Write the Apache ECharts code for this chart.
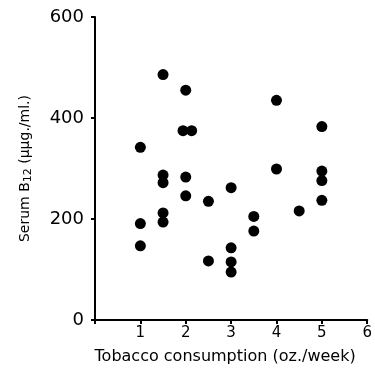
<!DOCTYPE html>
<html><head><meta charset="utf-8">
<script src="https://cdn.jsdelivr.net/npm/echarts@6/dist/echarts.min.js"></script>
<style>html,body{margin:0;padding:0;background:#fff}#c{width:375px;height:371px}</style>
</head><body><div id="c"></div>
<script>
const tobacco = [1.5, 2, 4, 5, 1.94, 2.13, 1, 1.5, 1.5, 2, 4, 5, 5, 3, 2, 2.5, 5, 4.5, 3.5, 1.5, 1.5, 1, 3.5, 1, 3, 2.5, 3, 3];
const serumB12 = [486, 455, 435, 383, 375, 375, 342, 287, 272, 283, 299, 295, 276, 262, 246, 235, 237, 216, 205, 212, 194, 191, 176, 147, 143, 117, 115, 95];
const xTicks = ['', '1', '2', '3', '4', '5', '6'];
const yTicks = [0, 200, 400, 600];

const chart = echarts.init(document.getElementById('c'));
const font = 'DejaVu Sans';
chart.setOption({
  animation: false,
  grid: {left: 95, right: 5, top: 17, bottom: 51},
  xAxis: {
    type: 'value', min: 0, max: 6, interval: 1,
    axisLine: {lineStyle: {color: '#000', width: 2}},
    axisTick: {show: true, length: 4, lineStyle: {color: '#000', width: 2}},
    splitLine: {show: false},
    axisLabel: {color: '#000', fontSize: 15, fontFamily: font, margin: 6,
      formatter: v => xTicks[Math.round(v)]},
    name: 'Tobacco consumption (oz./week)', nameLocation: 'middle', nameGap: 29,
    nameTextStyle: {color: '#000', fontSize: 16, fontFamily: font, padding: [0, 12, 0, 0]}
  },
  yAxis: {
    type: 'value', min: 0, max: 600, interval: 200,
    axisLine: {show: true, lineStyle: {color: '#000', width: 2}},
    axisTick: {show: true, length: 4, lineStyle: {color: '#000', width: 2}},
    splitLine: {show: false},
    axisLabel: {color: '#000', fontSize: 18, fontFamily: font, margin: 11,
      formatter: v => yTicks.includes(v) ? String(v) : ''},
    name: 'Serum B{sub|12} (μμg./ml.)', nameLocation: 'middle', nameGap: 61, nameRotate: 90,
    nameTextStyle: {color: '#000', fontSize: 14, fontFamily: font,
      rich: {sub: {fontSize: 11, fontFamily: font, color: '#000', verticalAlign: 'bottom', padding: [6, 0, 0, 0]}}}
  },
  series: [{
    type: 'scatter', symbol: 'circle', symbolSize: 11,
    itemStyle: {color: '#000', opacity: 1},
    data: tobacco.map((x, i) => [x, serumB12[i]])
  }]
});
</script></body></html>
